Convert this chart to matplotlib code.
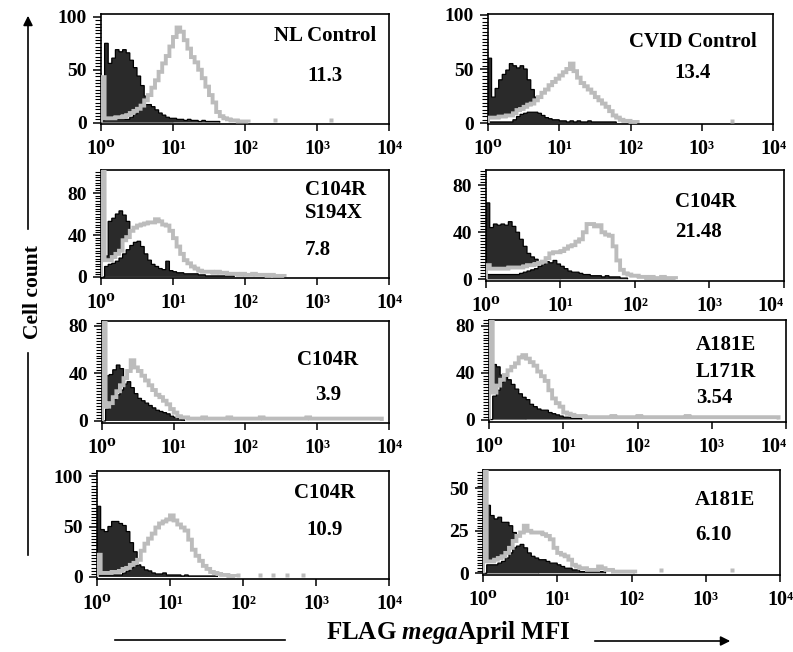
import numpy as np
import matplotlib
matplotlib.use('Agg')
import matplotlib.pyplot as plt
from matplotlib.ticker import AutoMinorLocator, LogLocator, NullFormatter

plt.rcParams['font.family'] = ['Liberation Serif', 'DejaVu Serif']
plt.rcParams['font.weight'] = 'bold'
plt.rcParams['mathtext.fontset'] = 'custom'
plt.rcParams['mathtext.rm'] = 'Liberation Serif:bold'
plt.rcParams['mathtext.it'] = 'Liberation Serif:italic:bold'

STEP = 0.05  # decades per channel, channels start at 10^0

xtick_vals = [1, 10, 100, 1000, 10000]
xtick_labels = ['10⁰', '10¹', '10²', '10³', '10⁴']

names = [['NL Control'], ['CVID Control'], ['C104R', 'S194X'], ['C104R'],
         ['C104R'], ['A181E', 'L171R'], ['C104R'], ['A181E']]
mfi = ['11.3', '13.4', '7.8', '21.48', '3.9', '3.54', '10.9', '6.10']
yticks = [[0, 50, 100], [0, 50, 100], [0, 40, 80], [0, 40, 80],
          [0, 40, 80], [0, 40, 80], [0, 50, 100], [0, 25, 50]]

# control (filled black) histograms
iso_1 = [35, 75, 56, 61, 69, 67, 69, 66, 59, 52, 44, 35, 25, 18, 12, 8, 5, 3, 2, 1]
iso_2 = [60, 24, 32, 40, 45, 49, 55, 53, 51, 53, 50, 40, 31, 24, 12, 6, 3, 1]
iso_3 = [0, 20, 53, 56, 60, 63, 59, 53, 45, 36, 28, 20, 12, 6, 3, 1]
iso_4 = [65, 44, 47, 46, 47, 46, 49, 45, 40, 34, 28, 22, 19, 17, 12, 8, 5, 3, 2, 1]
iso_5 = [20, 38, 39, 43, 47, 44, 35, 28, 20, 14, 8, 4, 2]
iso_6 = [30, 47, 45, 38, 30, 22, 15, 8, 4, 2]
iso_7 = [70, 47, 45, 50, 55, 55, 53, 51, 45, 34, 25, 17, 10, 5, 2, 1]
iso_8 = [30, 40, 34, 32, 33, 30, 30, 28, 24, 18, 12, 7, 4, 2, 1]

# FLAG megaApril stained cells (grey line)
flag_1 = [43, 4, 4, 4, 5, 5, 6, 7, 9, 11, 13, 16, 21, 26, 33, 40, 48, 56, 63, 72,
          81, 90, 86, 78, 70, 62, 57, 50, 42, 34, 26, 19, 10, 6, 4, 3, 2, 2, 1, 1, 1]
flag_2 = [5, 5, 5, 6, 6, 7, 7, 9, 12, 13, 15, 17, 18, 21, 24, 28, 31, 35, 38, 41,
          44, 47, 50, 55, 48, 42, 37, 34, 31, 28, 24, 21, 18, 15, 11, 7, 5, 3, 2, 2, 1, 1]
flag_3 = [110, 16, 16, 19, 22, 25, 35, 38, 44, 47, 49, 50, 51, 52, 52, 55, 53, 50, 49, 44,
          37, 29, 22, 16, 13, 10, 8, 6, 5, 5, 5, 4, 5, 4, 4, 3, 3, 3, 2, 3,
          2, 2, 3, 2, 2, 2, 1, 2, 1, 1, 1]
flag_4 = [12, 9, 9, 9, 9, 9, 10, 10, 10, 10, 11, 12, 12, 13, 14, 15, 18, 22, 23, 23,
          24, 26, 28, 29, 32, 34, 40, 47, 47, 45, 46, 40, 38, 37, 28, 16, 8, 5, 4, 3,
          3, 2, 2, 1, 2, 1, 1, 2, 1, 1, 1]
flag_5 = [90, 12, 15, 20, 25, 30, 36, 42, 51, 45, 42, 38, 34, 30, 26, 22, 20, 17, 14, 10,
          7, 4, 3, 3, 2,
          2, 2, 2, 3, 2, 2, 2, 2, 2, 2,
          3, 2, 2, 2, 2, 2, 2, 2, 2, 3,
          2, 2, 2, 2, 2, 2, 2, 2, 2, 2,
          2, 2, 3, 2, 2, 2, 2, 2, 2, 2,
          2, 2, 2, 2, 2, 2, 2, 2, 2, 2,
          2, 2, 2]
flag_6 = [90, 23, 29, 34, 38, 42, 45, 48, 53, 55, 52, 49, 46, 41, 37, 33, 25, 18, 14, 11,
          6, 5, 4, 3, 3, 3,
          2, 2, 2, 2, 2, 2, 2, 3, 2, 2,
          2, 2, 2, 2, 3, 2, 2, 2, 2, 2,
          2, 2, 2, 2, 2, 2, 2, 3, 2, 2,
          2, 2, 2, 2, 2, 2, 2, 2, 2, 2,
          2, 2, 2, 2, 2, 2, 2, 2, 2, 2,
          2, 2]
flag_7 = [22, 4, 4, 4, 5, 5, 6, 8, 9, 12, 14, 17, 26, 33, 38, 43, 49, 53, 55, 57,
          61, 56, 52, 49, 46, 37, 27, 21, 16, 11, 8, 5, 4, 3, 2, 2, 1, 1]
flag_8 = [70, 7, 7, 8, 9, 10, 12, 15, 19, 22, 24, 28, 25, 24, 24, 24, 23, 22, 20, 15,
          12, 11, 10, 8, 5, 4, 3, 3, 2, 2, 2, 4, 3, 2, 2, 1, 1, 1, 1, 1, 1]

# low black population drawn over the grey histogram
low_1 = [2, 3, 3, 3, 3, 3, 3, 3, 5, 8, 12, 15, 17, 17, 15, 12, 9, 7, 5, 4,
         4, 3, 3, 2, 3, 2, 2, 1, 2, 1, 1, 1, 1]
low_2 = [1, 1, 1, 1, 1, 1, 1, 3, 6, 8, 9, 10, 10, 10, 9, 7, 5, 4, 3, 3,
         2, 2, 1, 2, 1, 2, 1, 1, 2, 1, 1, 1, 1, 1, 1, 1]
low_3 = [0, 10, 12, 13, 15, 18, 22, 26, 30, 33, 34, 29, 22, 16, 12, 10, 8, 7, 15, 6,
         5, 4, 4, 3, 3, 3, 3, 2, 2, 1, 1, 1, 1, 1, 1, 1, 1]
low_4 = [4, 4, 4, 4, 4, 4, 4, 4, 4, 5, 6, 7, 8, 9, 11, 13, 15, 14, 16, 13,
         11, 9, 7, 6, 6, 5, 4, 4, 3, 3, 3, 2, 3, 2, 2, 2, 1, 1]
low_5 = [0, 10, 14, 18, 22, 26, 31, 33, 28, 23, 19, 17, 15, 13, 11, 9, 8, 7, 6, 4,
         3, 2, 1]
low_6 = [0, 20, 25, 32, 37, 34, 30, 26, 22, 19, 17, 13, 11, 9, 8, 8, 6, 5, 4, 3,
         2, 2, 1, 1, 1]
low_7 = [2, 2, 2, 2, 2, 2, 2, 4, 6, 9, 11, 12, 10, 7, 6, 4, 3, 3, 4, 2,
         2, 2, 2, 1, 2, 1, 1, 1, 1, 1, 1, 1, 1]
low_8 = [0, 5, 5, 5, 6, 7, 9, 12, 15, 16, 17, 15, 12, 10, 9, 8, 8, 7, 6, 6,
         5, 4, 3, 3, 2, 2, 1, 1, 1, 1, 1, 1, 1]

# isolated grey events far right (MFI, count)
dots_x = [[257, 1585], [2630], [], [], [], [], [85, 170, 257, 398, 661], [251, 2239]]
dots_y = [[2, 2], [2], [], [], [], [], [2, 2, 2, 2, 2], [2, 2]]

iso = [iso_1, iso_2, iso_3, iso_4, iso_5, iso_6, iso_7, iso_8]
flag = [flag_1, flag_2, flag_3, flag_4, flag_5, flag_6, flag_7, flag_8]
low = [low_1, low_2, low_3, low_4, low_5, low_6, low_7, low_8]

W, H = 793, 652
# panel boxes in pixels (left, top, right, bottom) and y ranges
boxes = [(101, 14, 389, 124), (488, 14, 773, 124),
         (101, 170, 389, 278), (486, 170, 784, 281),
         (102, 321, 389, 423), (489, 320, 786, 422),
         (97, 471, 389, 579), (483, 470, 780, 575)]
ylims = [(-1.4, 102.8), (-0.9, 100.9), (-1.0, 102), (-1.5, 93),
         (-1.7, 84), (-2.1, 85), (-2.0, 105), (-1.0, 60.8)]
# label anchors: x, first line y, line spacing, alignment, value y
text_pos = [(325, 36, 0, 'center', 76), (693, 42, 0, 'center', 73),
            (305, 190, 23, 'left', 250), (675, 202, 0, 'left', 232),
            (328, 360, 0, 'center', 395), (696, 345, 27, 'left', 398),
            (325, 493, 0, 'center', 530), (695, 500, 0, 'left', 535)]

BLACK = '#2a2a2a'
GREY = '#bcbcbc'

fig = plt.figure(figsize=(W / 100, H / 100), dpi=100)

for i in range(8):
    l, t, r, b = boxes[i]
    ax = fig.add_axes([l / W, 1 - b / H, (r - l) / W, (b - t) / H])
    e_iso = 10 ** (STEP * np.arange(len(iso[i]) + 1))
    e_flag = 10 ** (STEP * np.arange(len(flag[i]) + 1))
    e_low = 10 ** (STEP * np.arange(len(low[i]) + 1))

    ax.stairs(iso[i], e_iso, fill=True, facecolor=BLACK, edgecolor='none', zorder=1, snap=False)
    ax.stairs(iso[i], e_iso, color='black', lw=0.9, zorder=1.5, snap=False)
    ax.stairs(flag[i], e_flag, fill=True, facecolor='white', edgecolor='none', zorder=2, snap=False)
    ax.stairs(low[i], e_low, fill=True, facecolor=BLACK, edgecolor='none', zorder=3, snap=False)
    ax.stairs(low[i], e_low, color='black', lw=0.9, zorder=3.5, snap=False)
    ax.stairs(flag[i], e_flag, color=GREY, lw=2.8, zorder=4, snap=False)
    if dots_x[i]:
        ax.plot(dots_x[i], dots_y[i], 's', color=GREY, ms=2.8, mec='none', zorder=4)

    ax.set_xscale('log')
    ax.set_xlim(1, 1e4)
    ax.set_ylim(*ylims[i])
    ax.set_xticks(xtick_vals, labels=xtick_labels)
    ax.xaxis.set_minor_locator(LogLocator(base=10, subs=np.arange(2, 10)))
    ax.xaxis.set_minor_formatter(NullFormatter())
    ax.set_yticks(yticks[i])
    ax.yaxis.set_minor_locator(AutoMinorLocator(16))
    for s in ax.spines.values():
        s.set_linewidth(1.2)
    ax.tick_params(axis='y', which='major', length=6, width=1.1, labelsize=14, pad=4)
    ax.tick_params(axis='y', which='minor', length=4, width=0.8)
    ax.tick_params(axis='x', which='major', length=5, width=1.1, labelsize=14.5, pad=6)
    ax.tick_params(axis='x', which='minor', length=3.5, width=0.8)
    if r > 780:
        ax.get_xticklabels()[-1].set_horizontalalignment('right')

# overlay for free text and arrows (pixel coordinates)
ov = fig.add_axes([0, 0, 1, 1], zorder=10)
ov.set_xlim(0, W)
ov.set_ylim(H, 0)
ov.axis('off')

for i in range(8):
    x, y, dy, ha, ym = text_pos[i]
    for k, line in enumerate(names[i]):
        ov.text(x, y + k * dy, line, ha=ha, va='center', fontsize=15)
    ov.text(x, ym, mfi[i], ha=ha, va='center', fontsize=15)

ov.text(33, 292, 'Cell count', rotation=90, ha='center', va='center', fontsize=15.5)
ov.annotate('', xy=(28, 13), xytext=(28, 232),
            arrowprops=dict(arrowstyle='-|>', lw=1.2, color='black', mutation_scale=14))
ov.plot([28, 28], [353, 555], color='black', lw=1.2)

ov.text(448, 632, r'FLAG $\mathit{mega}$April MFI', ha='center', va='center', fontsize=18)
ov.plot([115, 285], [640, 640], color='black', lw=1.2)
ov.annotate('', xy=(733, 641), xytext=(592, 641),
            arrowprops=dict(arrowstyle='-|>', lw=1.2, color='black', mutation_scale=14))

fig.savefig('out.png', dpi=100, facecolor='white')
